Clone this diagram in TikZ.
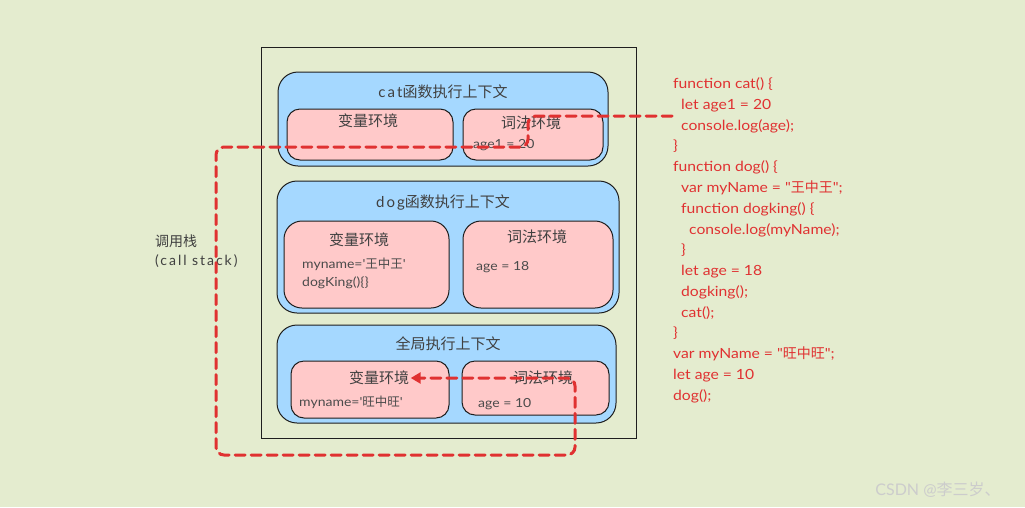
\documentclass[tikz,border=0pt]{standalone}
\usepackage{fontspec}
\newfontfamily\latin{Lato}
\newfontfamily\codefont{Lato}[FakeStretch=1.12]
\newfontfamily\hand{Lato}[LetterSpace=14]
\newfontfamily\cjk{Noto Sans CJK SC}
\usetikzlibrary{arrows.meta}
\definecolor{bgcol}{HTML}{E4ECCF}
\definecolor{ctxblue}{HTML}{A5D8FF}
\definecolor{envpink}{HTML}{FFC9C9}
\definecolor{inkdark}{HTML}{1E1E1E}
\definecolor{codered}{HTML}{E03131}

\begin{document}
\begin{tikzpicture}[x=1pt, y=-1pt, every node/.style={font=\latin},
  frame/.style={draw=inkdark, line width=0.8pt, inner sep=0pt},
  ctxbox/.style={draw=inkdark, fill=ctxblue, line width=1pt, rounded corners=20pt, inner sep=0pt},
  envbox/.style={draw=inkdark, fill=envpink, line width=1pt, rounded corners=13pt, inner sep=0pt},
  ttl/.style={font=\fontsize{15}{18}\selectfont\latin, text=inkdark!85, inner sep=1.5pt},
  val/.style={font=\fontsize{12.5}{15}\selectfont\codefont, text=inkdark!80, anchor=mid west, inner sep=0pt},
  codeline/.style={font=\fontsize{14}{17}\selectfont\codefont, text=codered, anchor=mid west, inner sep=0pt},
  callpath/.style={draw=codered, line width=3pt, dash pattern=on 10pt off 6pt, rounded corners=8pt, line cap=round}]
  \useasboundingbox[fill=bgcol] (0,0) rectangle (1025,507);

  % call stack frame
  \node[frame, minimum width=375pt, minimum height=391pt] (stack) at (448.5,242.5) {};
  \node[font=\fontsize{14}{19}\selectfont\hand, text=inkdark!85, align=left, anchor=west, inner sep=0pt] (stacklabel) at (155,251.5) {{\cjk 调用栈}\\(call stack)};

  % cat context
  \node[ctxbox, minimum width=330pt, minimum height=94pt] (catctx) at (443,119) {};
  \node[envbox, minimum width=166pt, minimum height=51pt] (catvar) at (370,134.5) {};
  \node[envbox, minimum width=140pt, minimum height=51pt] (catlex) at (533,134.5) {};
  \node[ttl] (cattitle) at (443,92) {{\hand cat}{\cjk 函数执行上下文}};
  \node[ttl] (catvartitle) at (368,121) {\cjk 变量环境};
  \node[ttl] (catlextitle) at (531,123) {\cjk 词法环境};
  \node[val] (catage) at (473,146) {age1 = 20};

  % dog context
  \node[ctxbox, minimum width=342pt, minimum height=132pt] (dogctx) at (448,247) {};
  \node[envbox, minimum width=165pt, minimum height=87pt, rounded corners=18pt] (dogvar) at (366.5,264.5) {};
  \node[envbox, minimum width=150pt, minimum height=87pt, rounded corners=18pt] (doglex) at (538,264.5) {};
  \node[ttl] (dogtitle) at (443,203) {{\hand dog}{\cjk 函数执行上下文}};
  \node[ttl] (dogvartitle) at (359,240) {\cjk 变量环境};
  \node[ttl] (doglextitle) at (537,237) {\cjk 词法环境};
  \node[val] (dogname) at (302,266) {myname='{\cjk 王中王}'};
  \node[val] (dogking) at (302,284) {dogKing()\{\}};
  \node[val] (dogage) at (476,268) {age = 18};

  % global context
  \node[ctxbox, minimum width=339pt, minimum height=98pt] (globctx) at (446.5,374) {};
  \node[envbox, minimum width=158pt, minimum height=57pt] (globvar) at (370,389.5) {};
  \node[envbox, minimum width=147pt, minimum height=54pt] (globlex) at (535.5,388) {};
  \node[ttl] (globtitle) at (448,344) {\cjk 全局执行上下文};
  \node[ttl] (globvartitle) at (379,378) {\cjk 变量环境};
  \node[ttl] (globlextitle) at (543,378) {\cjk 词法环境};
  \node[val] (globname) at (299,404) {myname='{\cjk 旺中旺}'};
  \node[val] (globage) at (478,405) {age = 10};

  % source code
  \node[codeline] (code1) at (673,86) {function cat() \{};
  \node[codeline] (code2) at (681,107) {let age1 = 20};
  \node[codeline] (code3) at (681,128) {console.log(age);};
  \node[codeline] (code4) at (673,148) {\}};
  \node[codeline] (code5) at (673,169) {function dog() \{};
  \node[codeline] (code6) at (681,190) {var myName = "{\cjk 王中王}";};
  \node[codeline] (code7) at (681,211) {function dogking() \{};
  \node[codeline] (code8) at (689,232) {console.log(myName);};
  \node[codeline] (code9) at (681,252) {\}};
  \node[codeline] (code10) at (681,273) {let age = 18};
  \node[codeline] (code11) at (681,294) {dogking();};
  \node[codeline] (code12) at (681,315) {cat();};
  \node[codeline] (code13) at (673,335) {\}};
  \node[codeline] (code14) at (673,356) {var myName = "{\cjk 旺中旺}";};
  \node[codeline] (code15) at (673,377) {let age = 10};
  \node[codeline] (code16) at (673,398) {dog();};

  % scope chain
  \coordinate (callstart) at (672,116);
  \draw[callpath, -{Triangle[length=10pt, width=11pt]}] (callstart) -- ++(-144,0) -- ++(0,31) -- ++(-312,0)
    -- ++(0,308) -- ++(359,0) -- ++(0,-77) -- (globvartitle.east);

  \node[font=\fontsize{16}{19}\selectfont\latin, text=gray!40, inner sep=0pt] (mark) at (938,490) {CSDN @{\cjk 李三岁、}};
\end{tikzpicture}
\end{document}
